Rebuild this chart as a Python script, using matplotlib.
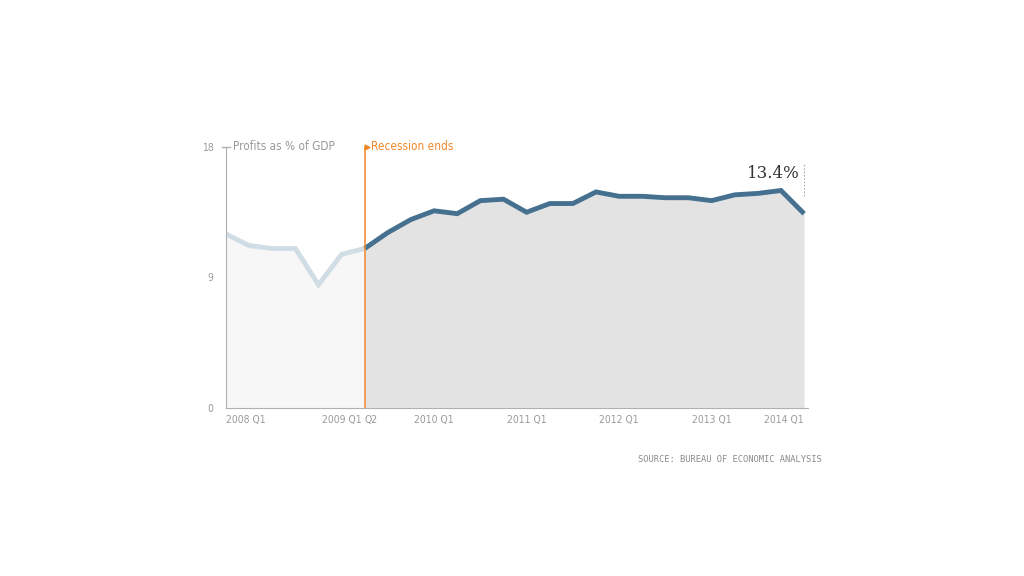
import matplotlib
matplotlib.use("Agg")
import matplotlib.pyplot as plt
from matplotlib import font_manager

# Corporate profits as % of GDP, 2007 Q4 .. 2014 Q1 (quarterly)
before_vals = [12.0, 11.2, 11.0, 11.0, 8.5, 10.6, 11.0]          # up to 2009 Q2
after_vals = [11.0, 12.1, 13.0, 13.6, 13.4, 14.3, 14.4, 13.5, 14.1, 14.1,
              14.9, 14.6, 14.6, 14.5, 14.5, 14.3, 14.7, 14.8, 15.0, 13.4]
tick_pos = [0, 5, 6, 9, 13, 17, 21, 25]
tick_labels = ["2008 Q1", "2009 Q1", "Q2", "2010 Q1", "2011 Q1", "2012 Q1", "2013 Q1", "2014 Q1"]
y_ticks = [0, 9, 18]

names = {f.name for f in font_manager.fontManager.ttflist}
cond = "Liberation Sans Narrow" if "Liberation Sans Narrow" in names else "DejaVu Sans"
st = "normal" if cond == "Liberation Sans Narrow" else "condensed"
cf = dict(family=cond, fontstretch=st)

grey = "#9a9a9a"
orange = "#f0882a"
blue = "#45708f"
pale = "#d1dde5"

fig = plt.figure(figsize=(10.24, 5.76), dpi=100)
ax = fig.add_axes([0.2207, 0.2917, 0.5684, 0.4531])

x_before = list(range(len(before_vals)))
x_after = list(range(len(before_vals) - 1, len(before_vals) - 1 + len(after_vals)))

ax.fill_between(x_before, before_vals, 0, color="#f7f7f7", lw=0)
ax.fill_between(x_after, after_vals, 0, color="#e3e3e3", lw=0)
ax.plot(x_before, before_vals, color=pale, lw=3.5, solid_capstyle="butt", solid_joinstyle="miter")
ax.plot(x_after, after_vals, color=blue, lw=3.5, solid_capstyle="butt", solid_joinstyle="miter")

# recession marker
rec = x_after[0]
ax.axvline(rec, color=orange, lw=1.1)
ax.plot([rec + 0.08], [18], marker=">", color=orange, markersize=3.5, clip_on=False)
ax.text(rec + 0.25, 18, "Recession ends", color=orange, fontsize=8.5, va="center", ha="left", **cf)

# latest value annotation
last = x_after[-1]
ax.plot([last, last], [after_vals[-1] + 1.2, 16.8], color="#aaaaaa", lw=0.8, ls=(0, (1.5, 1.5)))
ax.text(last - 0.2, 16.2, "13.4%", family="DejaVu Serif", fontsize=12, color="#333333",
        ha="right", va="center")

ax.set_xlim(0, 25.17)
ax.set_ylim(0, 18)

for s in ["top", "right"]:
    ax.spines[s].set_visible(False)
ax.spines["left"].set_color("#b0b0b0")
ax.spines["bottom"].set_color("#b0b0b0")

ax.set_yticks(y_ticks)
ax.set_yticklabels([str(v) for v in y_ticks], fontsize=7.5, color=grey, **cf)
ax.tick_params(axis="y", length=0, pad=9)
ax.plot([-0.17, 0.17], [18, 18], color="#b0b0b0", lw=1, clip_on=False)
ax.text(0.3, 18, "Profits as % of GDP", color=grey, fontsize=8.5, va="center", ha="left", **cf)

ax.set_xticks([])
for p, lab in zip(tick_pos, tick_labels):
    ha = "center"
    if p == 0:
        ha = "left"
    elif p == tick_pos[-1]:
        ha = "right"
    if lab == "Q2":
        ha = "left"
    ax.text(p, -0.85, lab, ha=ha, va="center", fontsize=7.5, color=grey, **cf)

fig.text(822 / 1024, 1 - 460 / 576, "SOURCE: BUREAU OF ECONOMIC ANALYSIS", ha="right", va="center",
         fontsize=6.3, family="DejaVu Sans Mono", color="#8a8a8a")

fig.savefig("out.png", dpi=100, facecolor="white")
